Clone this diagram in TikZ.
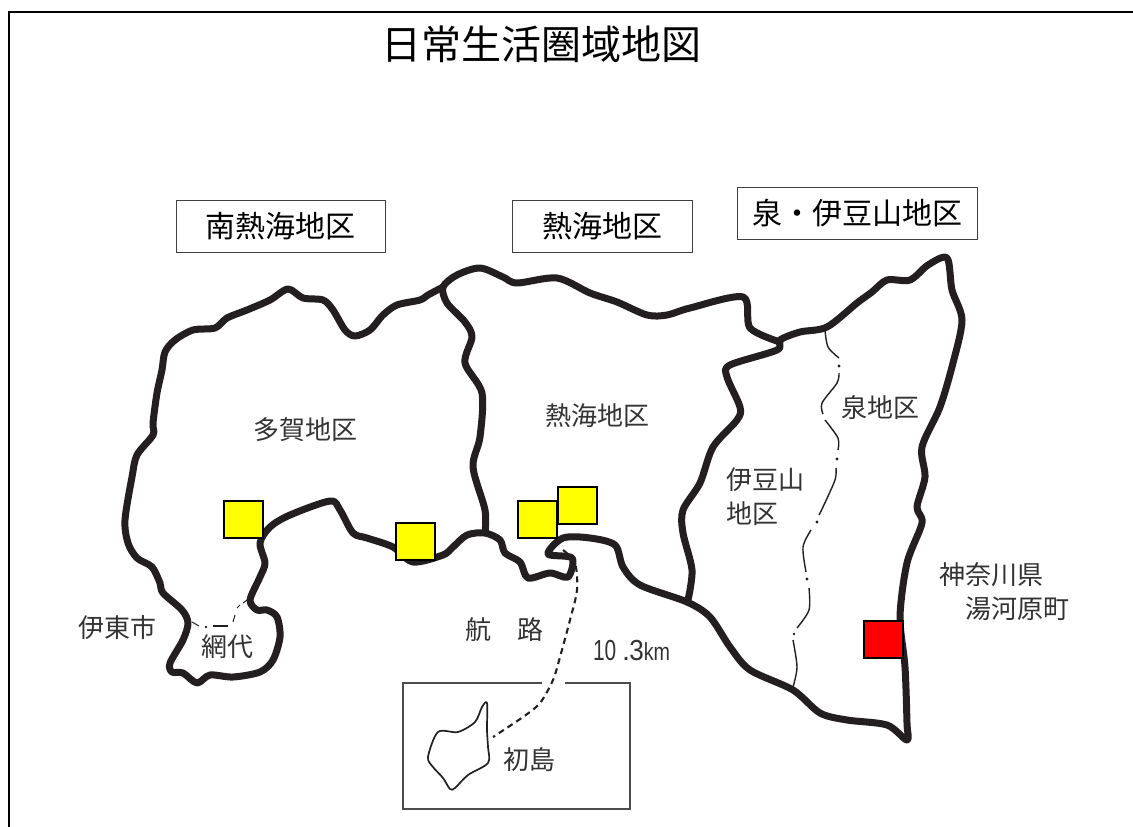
\documentclass[tikz,border=0pt]{standalone}
\usepackage{fontspec}
\usepackage{graphicx}
\setmainfont{Noto Sans CJK JP}
\newfontfamily\numfont{Liberation Sans}
\definecolor{puryellow}{RGB}{255,255,0}
\definecolor{purred}{RGB}{255,0,0}
\definecolor{mapink}{RGB}{35,31,32}
\tikzset{
  every node/.style={inner sep=0pt,outer sep=0pt,text=black!80},
  thick map/.style={line width=7pt,line join=round,line cap=round,draw=mapink},
  thin map/.style={line width=1.4pt,line join=round,draw=mapink},
  square/.style={draw=black,line width=2pt,minimum width=39pt,minimum height=37pt,anchor=north west},
  namebox/.style={draw=black!75,line width=1pt,anchor=north west,font=\fontsize{30}{30}\selectfont,text=black},
  area/.style={font=\fontsize{26}{28}\selectfont},
}
\begin{document}
\begin{tikzpicture}[x=1pt,y=-1pt]
\useasboundingbox (0,0) rectangle (1133,827);
\fill[white] (0,0) rectangle (1133,827);
\draw[black,line width=1.5pt] (9,827) -- (9,12) -- (1133,12);
% title
\node (title) at (541,44) {\fontsize{40}{40}\selectfont\color{black}日常生活圏域地図};
% name boxes
\node[namebox,minimum width=209pt,minimum height=52pt] (minami) at (176,200) {南熱海地区};
\node[namebox,minimum width=180pt,minimum height=52pt] (atami) at (512,200) {熱海地区};
\node[namebox,minimum width=240pt,minimum height=52pt] (izumi) at (737,187) {泉・伊豆山地区};
% Taga + coast + east side
\draw[thick map] plot[smooth,tension=0.5] coordinates {(443,287)(428,295)(420,300)(397,305)(383,315)(370,330)(355,336)(345,330)(333,310)(323,300)(303,298)(288,289)(270,300)(247,310)(227,318)(215,328)(193,330)(175,340)(165,352)(162,370)(157,393)(153,423)(153,435)(137,455)(132,477)(125,520)(128,543)(137,558)(152,567)(160,583)(163,593)(182,610)(188,623)(183,640)(170,663)(172,672)(183,673)(197,683)(210,675)(233,677)(260,672)(273,660)(280,637)(277,617)(267,610)(257,610)(250,600)(260,577)(265,563)(260,543)(270,527)(290,515)(330,501)(340,510)(353,533)(367,538)(393,547)(413,562)(443,555)(453,547)(467,535)(485,533)(500,540)(505,553)(520,562)(528,578)(550,573)(568,577)(572,558)(548,554)(563,538)(590,538)(615,545)(623,567)(640,585)(687,602)(710,617)(730,647)(750,670)(793,690)(820,713)(847,720)(887,725)(907,740)(907,723)(905,667)(900,617)(907,563)(922,523)(917,507)(925,477)(922,447)(940,407)(953,363)(962,320)(952,290)(947,258)(928,265)(910,280)(887,280)(872,292)(857,303)(827,327)(800,332)(780,340)(777,350)(730,365)(727,377)(740,407)(737,420)(713,447)(700,483)(683,510)(683,533)(692,570)(688,600)};
% Atami north and west boundary
\draw[thick map] plot[smooth,tension=0.5] coordinates {(780,342)(750,328)(743,297)(690,308)(667,315)(647,315)(617,302)(590,293)(557,278)(517,283)(503,277)(480,268)(457,275)(443,287)(447,303)(465,322)(472,337)(465,363)(482,393)(480,437)(473,467)(485,510)(485,533)};
% Izumi / Izusan boundary
\draw[thin map] plot[smooth] coordinates {(825,330)(828,347)(839,358)};
\fill[mapink] (839,366) circle (1.6pt);
\draw[thin map] plot[smooth] coordinates {(839,373)(837,383)(822,403)(823,414)};
\draw[thin map] plot[smooth] coordinates {(825,420)(838,438)(838,450)};
\fill[mapink] (837,459) circle (1.6pt);
\draw[thin map] plot[smooth] coordinates {(836,468)(835,480)(823,507)(819,515)};
\fill[mapink] (817,522) circle (1.6pt);
\draw[thin map] plot[smooth] coordinates {(811,530)(803,547)(806,572)};
\fill[mapink] (807,579) circle (1.6pt);
\draw[thin map] plot[smooth] coordinates {(809,588)(809,610)(797,628)};
\fill[mapink] (794,634) circle (1.3pt);
\draw[thin map] plot[smooth] coordinates {(793,640)(797,667)(793,687)};
% Ajiro boundary
\draw[thin map,line width=1pt] (192,622) -- (199,626);
\fill[mapink] (206,627) circle (1.4pt);
\draw[thin map] (213,626) -- (228,626);
\draw[thin map,line width=1pt] (233,622) -- (235,615);
\draw[thin map,line width=1pt] (237,608) -- (240,605);
\draw[thin map,line width=1pt] (243,603) -- (247,600);
% Hatsushima box
\draw[black!70,line width=1.6pt] (542,683) -- (403,683) -- (403,809) -- (630,809) -- (630,683) -- (565,683);
% Island
\draw[thin map,line width=1.7pt] plot[smooth cycle,tension=0.5] coordinates {(487,703)(482,707)(475,722)(458,732)(438,732)(428,757)(433,767)(443,778)(450,789)(455,788)(468,775)(488,763)(488,747)(487,730)};
% Route
\draw[mapink,line width=2.1pt,dash pattern=on 6pt off 4.5pt] plot[smooth] coordinates {(563,550)(575,563)(577,590)(570,620)(560,657)(553,680)(540,703)(523,717)(493,737)};
% Facilities
\node[square,fill=puryellow] (s1) at (223.5,500.5) {};
\node[square,fill=puryellow] (s2) at (395.5,522.5) {};
\node[square,fill=puryellow] (s4) at (557.5,486.5) {};
\node[square,fill=puryellow] (s3) at (517.5,500.5) {};
\node[square,fill=purred] (s5) at (863.5,620.5) {};
% Labels
\node[area] (t1) at (305,430) {多賀地区};
\node[area] (t2) at (597,416) {熱海地区};
\node[area] (t3) at (880,408) {泉地区};
\node[area,anchor=west] (t4) at (726,480) {伊豆山};
\node[area,anchor=west] (t5) at (726,514) {地区};
\node[area] (t6) at (117,628) {伊東市};
\node[area] (t7) at (227,647) {網代};
\node[area] (t8) at (504,630) {航　路};
\node[area] (t9) at (529,760) {初島};
\node[area,anchor=west] (t10) at (939,575) {神奈川県};
\node[area,anchor=west] (t11) at (965,609) {湯河原町};
\node[anchor=west] (t12) at (593,651) {\numfont\fontsize{29}{29}\selectfont\scalebox{.72}[1]{10}\hspace{6pt}.\hspace{-1pt}\scalebox{.9}[1]{3}\scalebox{.68}[.85]{km}};
\end{tikzpicture}
\end{document}
